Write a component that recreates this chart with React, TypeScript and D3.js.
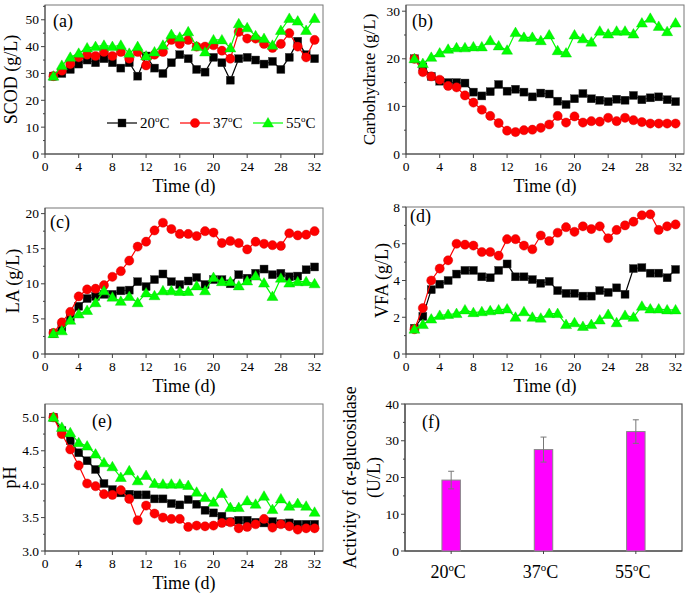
import React from 'react';
import * as d3 from 'd3';

const DAYS = [1,2,3,4,5,6,7,8,9,10,11,12,13,14,15,16,17,18,19,20,21,22,23,24,25,26,27,28,29,30,31,32];
const X_TICKS = [0,4,8,12,16,20,24,28,32];
const TEMPS = ['20', '37', '55'];

const SCOD_20 = [29,30,31.5,33.5,35,34,35.5,34,32,34,29,36.5,32,30,34,37,35.5,31.5,30.5,36,34,27.5,35.5,36,35,33.5,34.5,31.5,36,42,37,35.5];
const SCOD_37 = [29,31,33.5,36,37,36.5,38,36.5,38,35.5,38,33,37,38,42.5,41,42.5,40,40,40.5,38.5,35.5,45.5,43,43,41,39.5,41,45,40,36,42.5];
const SCOD_55 = [29,33,36,37.5,39.5,40,40.5,40,40.5,37.5,40,36.5,38,40.5,44.5,43.5,45.5,40,38,42.5,42.5,39.5,48.5,47,44,43,40.5,46,50.5,49.5,46,50.5];

const CARB_20 = [20,18.3,16.3,15.3,15,15,14.9,13,12.2,13.1,14.6,13.2,13.6,13,12,12.8,12.6,11.1,10.4,11.6,12.7,11.6,11.3,11,11.5,11.3,12.3,11.4,11.8,12,11.4,11];
const CARB_37 = [20,17.2,16.3,15.6,14.3,14,12.3,10.8,9.3,8,6.5,4.9,4.6,5,5.1,5.5,6.2,8,6.6,7.9,6.6,6.9,6.8,7.6,6.9,7.6,7.1,6.7,6.4,6.4,6.4,6.4];
const CARB_55 = [20,19,20.3,21.2,22,22.3,22.3,22.5,22.5,23.8,22.7,21.8,25.5,24.5,24.5,23.8,25,21.7,21.2,25,24.2,23.5,25.8,25.2,25.8,25.8,25.2,27.5,28.5,26.8,25.7,27.5];

const LA_20 = [2.9,3.8,5.2,6.8,7.9,8.2,8.5,8.5,9,9.1,10.3,9.6,10.6,11.4,10.3,9.9,10.4,10.9,9.9,10.6,10.6,10,11.3,10.8,11.5,12.1,11.3,11.5,11,11.1,12,12.4];
const LA_37 = [3,4.5,6,8.2,9.2,9.3,9.8,11,11.8,13.3,15.3,16,17.6,18.7,17.8,17.1,17.1,16.8,17.5,17.3,15.8,16.1,15.8,14.9,16,15.7,15.5,15.4,17.2,16.9,17,17.5];
const LA_55 = [2.9,3.3,4.8,5.7,6.2,7.3,9,8.1,7.5,8.2,7.3,8.7,8.3,9,9,8.9,8.9,9.7,9,10.9,10.3,10.3,9.7,10.4,11.1,10.1,8.2,10.8,10.1,10.3,10.3,10];

const VFA_20 = [1.4,2.05,3.5,3.8,4,4.35,4.55,4.55,4.2,4.15,4.55,4.9,4.2,4.2,4.05,3.85,3.95,3.45,3.3,3.3,3.15,3.15,3.45,3.35,3.6,3.25,4.65,4.7,4.4,4.4,4.15,4.6];
const VFA_37 = [1.35,2.5,4,4.65,5.1,6,5.95,5.9,5.55,5.55,5.35,6.25,6.25,5.9,5.7,6.45,6.15,6.6,6.9,6.65,6.95,6.8,6.95,6.3,6.75,7,7.2,7.55,7.6,6.75,6.95,7.05];
const VFA_55 = [1.35,1.6,1.9,2.1,2.15,2.2,2.4,2.25,2.3,2.35,2.4,2.45,2,2.3,2,1.95,2.2,2.2,1.6,1.7,1.5,1.6,1.85,2.15,1.7,2.1,2,2.6,2.45,2.45,2.4,2.4];

const PH_20 = [5,4.8,4.65,4.47,4.35,4.22,4.01,3.92,3.87,3.85,3.84,3.84,3.78,3.78,3.71,3.69,3.77,3.7,3.61,3.57,3.52,3.44,3.46,3.46,3.43,3.42,3.44,3.41,3.42,3.4,3.4,3.4];
const PH_37 = [5,4.75,4.52,4.28,4.01,3.97,3.85,3.84,3.91,3.78,3.46,3.68,3.56,3.5,3.48,3.48,3.36,3.38,3.37,3.38,3.42,3.43,3.34,3.36,3.4,3.48,3.35,3.4,3.37,3.32,3.34,3.34];
const PH_55 = [5,4.85,4.77,4.62,4.57,4.45,4.32,4.26,4.1,4.2,4.05,4.13,4.01,4,4,4,3.98,3.88,3.8,3.73,3.86,3.65,3.65,3.75,3.7,3.82,3.62,3.78,3.67,3.71,3.67,3.58];

const ENZ_VALUES = [19.3, 27.6, 32.5];
const ENZ_ERR = [2.4, 3.4, 3.2];

const FONT = '"Liberation Serif", "Times New Roman", serif';
const COLORS = ['#000000', '#FF0000', '#00FF00'];
const SHAPES = ['square', 'circle', 'triangle'];
const AXIS = '#444';

function Marker({ shape, x, y, color }: any) {
  if (shape === 'square') return <rect x={x - 4} y={y - 4} width={8} height={8} fill={color} stroke="#333" strokeWidth={0.4} />;
  if (shape === 'circle') return <circle cx={x} cy={y} r={4.6} fill={color} stroke="#c00" strokeWidth={0.4} />;
  return <path d={`M${x},${y - 5.5}L${x + 5.5},${y + 4}L${x - 5.5},${y + 4}Z`} fill={color} stroke="#0c0" strokeWidth={0.4} />;
}

function TempLabel({ t, x, y, size, anchor }: any) {
  return (
    <text x={x} y={y} fontSize={size} textAnchor={anchor} fontFamily={FONT}>
      {t}<tspan dy={-size * 0.38} fontSize={size * 0.6}>o</tspan><tspan dy={size * 0.38}>C</tspan>
    </text>
  );
}

function LinePanel({ box, yDomain, yTicks, yMinor, yFmt, data, ylabel, ylabelX, ylabelSize, label, labelPos, legend }: any) {
  const [x0, x1, y0, y1] = box;
  const xs = d3.scaleLinear().domain([0, 33]).range([x0, x1]);
  const ys = d3.scaleLinear().domain(yDomain).range([y1, y0]);
  const line = d3.line<number>().x((_, i) => xs(DAYS[i])).y(v => ys(v));
  return (
    <g fontFamily={FONT}>
      <rect x={x0} y={y0} width={x1 - x0} height={y1 - y0} fill="none" stroke="#777" strokeWidth={1} />
      <line x1={x0} x2={x0} y1={y0} y2={y1} stroke={AXIS} />
      <line x1={x0} x2={x1} y1={y1} y2={y1} stroke={AXIS} />
      {yTicks.map((t: number) => (
        <g key={'y' + t}>
          <line x1={x0 - 4} x2={x0} y1={ys(t)} y2={ys(t)} stroke={AXIS} />
          <text x={x0 - 6} y={ys(t) + 4.5} fontSize={13.5} textAnchor="end">{yFmt ? yFmt(t) : t}</text>
        </g>
      ))}
      {yMinor.map((t: number) => <line key={'m' + t} x1={x0 - 2} x2={x0} y1={ys(t)} y2={ys(t)} stroke={AXIS} />)}
      {X_TICKS.map(t => (
        <g key={'x' + t}>
          <line x1={xs(t)} x2={xs(t)} y1={y1} y2={y1 + 4} stroke={AXIS} />
          <text x={xs(t)} y={y1 + 17} fontSize={13.5} textAnchor="middle">{t}</text>
        </g>
      ))}
      <text x={(x0 + x1) / 2} y={y1 + 38} fontSize={18} textAnchor="middle">Time (d)</text>
      <text transform={`translate(${ylabelX},${(y0 + y1) / 2}) rotate(-90)`} fontSize={ylabelSize || 18} textAnchor="middle">{ylabel}</text>
      <text x={labelPos[0]} y={labelPos[1]} fontSize={18}>{label}</text>
      {data.map((vals: number[], k: number) => (
        <g key={'s' + k}>
          <path d={line(vals) || ''} fill="none" stroke={COLORS[k]} strokeWidth={1.2} />
          {vals.map((v, i) => <Marker key={i} shape={SHAPES[k]} x={xs(DAYS[i])} y={ys(v)} color={COLORS[k]} />)}
        </g>
      ))}
      {legend && TEMPS.map((t, k) => {
        const lx = [107, 180, 253][k];
        const ly = 123;
        return (
          <g key={'l' + k}>
            <line x1={lx} x2={lx + 30} y1={ly} y2={ly} stroke={COLORS[k]} strokeWidth={1.2} />
            <Marker shape={SHAPES[k]} x={lx + 15} y={ly} color={COLORS[k]} />
            <TempLabel t={t} x={lx + 33} y={ly + 5} size={15} anchor="start" />
          </g>
        );
      })}
    </g>
  );
}

function BarPanel() {
  const [x0, x1, y0, y1] = [405, 682, 404, 551];
  const xs = d3.scaleBand().domain(TEMPS).range([x0, x1]).paddingInner(0.8).paddingOuter(0.4);
  const ys = d3.scaleLinear().domain([0, 40]).range([y1, y0]);
  const ticks = [0, 10, 20, 30, 40];
  const minor = [5, 15, 25, 35];
  const bw = xs.bandwidth();
  return (
    <g fontFamily={FONT}>
      <rect x={x0} y={y0} width={x1 - x0} height={y1 - y0} fill="none" stroke="#555" strokeWidth={1.2} />
      <line x1={x0} x2={x0} y1={y0} y2={y1} stroke={AXIS} />
      <line x1={x0} x2={x1} y1={y1} y2={y1} stroke={AXIS} />
      {ticks.map(t => (
        <g key={'y' + t}>
          <line x1={x0 - 4} x2={x0} y1={ys(t)} y2={ys(t)} stroke={AXIS} />
          <text x={x0 - 6} y={ys(t) + 4.5} fontSize={13.5} textAnchor="end">{t}</text>
        </g>
      ))}
      {minor.map(t => <line key={'m' + t} x1={x0 - 2} x2={x0} y1={ys(t)} y2={ys(t)} stroke={AXIS} />)}
      {TEMPS.map((t, i) => {
        const cx = (xs(t) as number) + bw / 2;
        return (
          <g key={t}>
            <rect x={xs(t)} y={ys(ENZ_VALUES[i])} width={bw} height={y1 - ys(ENZ_VALUES[i])} fill="#FF00FF" stroke="#888" strokeWidth={1} />
            <line x1={cx} x2={cx} y1={ys(ENZ_VALUES[i] - ENZ_ERR[i])} y2={ys(ENZ_VALUES[i] + ENZ_ERR[i])} stroke="#777" strokeWidth={1} />
            <line x1={cx - 3} x2={cx + 3} y1={ys(ENZ_VALUES[i] + ENZ_ERR[i])} y2={ys(ENZ_VALUES[i] + ENZ_ERR[i])} stroke="#777" strokeWidth={1} />
            <line x1={cx - 3} x2={cx + 3} y1={ys(ENZ_VALUES[i] - ENZ_ERR[i])} y2={ys(ENZ_VALUES[i] - ENZ_ERR[i])} stroke="#777" strokeWidth={1} />
            <line x1={cx} x2={cx} y1={y1} y2={y1 + 3} stroke={AXIS} />
            <TempLabel t={t} x={cx - 3} y={578} size={18} anchor="middle" />
          </g>
        );
      })}
      <text x={422} y={428} fontSize={18}>(f)</text>
      <text transform={`translate(356,${(y0 + y1) / 2}) rotate(-90)`} fontSize={18} textAnchor="middle">Activity of α-glucosidase</text>
      <text transform={`translate(380,${(y0 + y1) / 2}) rotate(-90)`} fontSize={18} textAnchor="middle">(U/L)</text>
    </g>
  );
}

export default function App() {
  return (
    <svg width={685} height={597} style={{ position: 'absolute', left: 0, top: 0, background: '#fff' }}>
      <rect width={685} height={597} fill="#fff" />
      <LinePanel box={[45, 323, 5, 154]} yDomain={[0, 55.5]} yTicks={[0, 10, 20, 30, 40, 50]} yMinor={[5, 15, 25, 35, 45, 55]}
        data={[SCOD_20, SCOD_37, SCOD_55]} ylabel="SCOD (g/L)" ylabelX={17} label="(a)" labelPos={[53, 27]} legend />
      <LinePanel box={[406, 684, 5, 154]} yDomain={[0, 31.3]} yTicks={[0, 10, 20, 30]} yMinor={[5, 15, 25]}
        data={[CARB_20, CARB_37, CARB_55]} ylabel="Carbohydrate (g/L)" ylabelX={375} ylabelSize={17} label="(b)" labelPos={[412, 27]} />
      <LinePanel box={[45, 323, 208, 354]} yDomain={[0, 20.8]} yTicks={[0, 5, 10, 15, 20]} yMinor={[2.5, 7.5, 12.5, 17.5]}
        data={[LA_20, LA_37, LA_55]} ylabel="LA (g/L)" ylabelX={19} label="(c)" labelPos={[50, 228]} />
      <LinePanel box={[406, 684, 207, 354]} yDomain={[0, 8]} yTicks={[0, 2, 4, 6, 8]} yMinor={[1, 3, 5, 7]}
        data={[VFA_20, VFA_37, VFA_55]} ylabel="VFA (g/L)" ylabelX={388} label="(d)" labelPos={[410, 222]} />
      <LinePanel box={[45, 323, 404, 551]} yDomain={[3, 5.2]} yTicks={[3, 3.5, 4, 4.5, 5]} yMinor={[3.25, 3.75, 4.25, 4.75]} yFmt={(t: number) => t.toFixed(1)}
        data={[PH_20, PH_37, PH_55]} ylabel="pH" ylabelX={16} label="(e)" labelPos={[92, 427]} />
      <BarPanel />
    </svg>
  );
}
